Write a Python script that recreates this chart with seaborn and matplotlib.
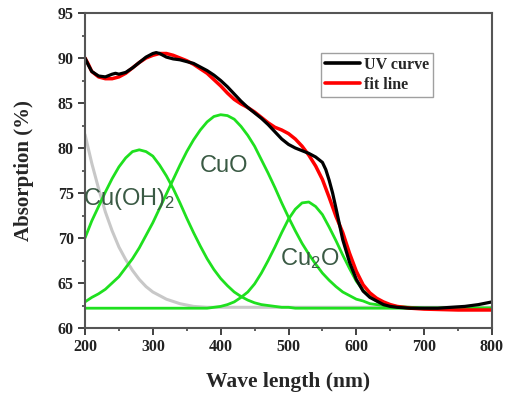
import matplotlib
matplotlib.use("Agg")
import matplotlib.pyplot as plt
import seaborn as sns
import pandas as pd
from matplotlib.lines import Line2D
from matplotlib.ticker import MultipleLocator

# ---------------- data ----------------
uv_x = [200, 205, 210, 220, 230, 240, 245, 250, 260, 270, 280, 290, 300, 305, 310, 320,
        330, 340, 350, 360, 370, 380, 390, 400, 410, 420, 430, 440, 450, 460, 470, 480,
        490, 500, 510, 520, 530, 540, 550, 555, 560, 565, 570, 580, 590, 600, 610, 620, 630, 640,
        650, 660, 680, 700, 720, 740, 760, 780, 800]
uv_y = [90.0, 89.2, 88.5, 88.0, 87.9, 88.2, 88.3, 88.2, 88.4, 88.9, 89.5, 90.1, 90.5, 90.6, 90.5, 90.1,
        89.9, 89.8, 89.6, 89.4, 89.0, 88.6, 88.1, 87.5, 86.8, 86.0, 85.2, 84.5, 83.9, 83.3, 82.6, 81.8,
        81.0, 80.4, 80.0, 79.7, 79.4, 79.0, 78.4, 77.6, 76.4, 75.0, 73.3, 69.8, 67.3, 65.4, 64.1, 63.4, 63.0, 62.6,
        62.4, 62.3, 62.2, 62.2, 62.2, 62.3, 62.4, 62.6, 62.9]

fit_x = [200, 205, 210, 220, 230, 240, 250, 260, 270, 280, 290, 300, 310, 320, 330, 340,
         350, 360, 370, 380, 390, 400, 410, 420, 430, 440, 450, 460, 470, 480, 490, 500,
         510, 520, 530, 540, 550, 560, 570, 580, 590, 600, 610, 620, 630, 640, 650, 660,
         680, 700, 750, 800]
fit_y = [90.0, 89.3, 88.5, 87.9, 87.7, 87.7, 87.9, 88.3, 88.9, 89.5, 90.0, 90.3, 90.5, 90.5, 90.3, 90.0,
         89.7, 89.3, 88.8, 88.3, 87.6, 86.9, 86.1, 85.4, 84.9, 84.5, 84.0, 83.4, 82.8, 82.3, 82.0, 81.6,
         81.0, 80.2, 79.2, 78.0, 76.5, 74.5, 72.4, 70.6, 68.3, 66.3, 64.8, 63.9, 63.3, 62.9, 62.6, 62.4,
         62.2, 62.1, 62.0, 62.0]

peak_x = [200, 210, 220, 230, 240, 250, 260, 270, 280, 290, 300, 310, 320, 330, 340, 350,
          360, 370, 380, 390, 400, 410, 420, 430, 440, 450, 460, 470, 480, 490, 500, 510,
          520, 530, 540, 550, 560, 570, 580, 590, 600, 610, 620, 630, 640, 650, 660, 680,
          700, 750, 800]

cuoh2_y = [70.0, 71.9, 73.5, 75.1, 76.6, 77.9, 78.9, 79.6, 79.8, 79.6, 79.1, 78.1, 76.9, 75.5, 73.9, 72.2,
           70.6, 69.1, 67.7, 66.5, 65.5, 64.7, 64.0, 63.5, 63.1, 62.8, 62.6, 62.5, 62.4, 62.3, 62.3, 62.2,
           62.2, 62.2, 62.2, 62.2, 62.2, 62.2, 62.2, 62.2, 62.2, 62.2, 62.2, 62.2, 62.2, 62.2, 62.2, 62.2,
           62.2, 62.2, 62.2]

cuo_y = [62.9, 63.4, 63.8, 64.3, 65.0, 65.7, 66.7, 67.7, 68.9, 70.3, 71.7, 73.3, 74.9, 76.5, 78.1, 79.6,
         80.9, 82.0, 82.9, 83.5, 83.7, 83.6, 83.2, 82.4, 81.4, 80.2, 78.7, 77.2, 75.6, 73.9, 72.3, 70.8,
         69.4, 68.2, 67.1, 66.1, 65.3, 64.6, 64.0, 63.6, 63.2, 63.0, 62.7, 62.6, 62.5, 62.4, 62.3, 62.2,
         62.2, 62.2, 62.2]

cu2o_y = [62.2, 62.2, 62.2, 62.2, 62.2, 62.2, 62.2, 62.2, 62.2, 62.2, 62.2, 62.2, 62.2, 62.2, 62.2, 62.2,
          62.2, 62.2, 62.2, 62.3, 62.4, 62.6, 62.9, 63.4, 64.0, 64.9, 66.1, 67.5, 69.0, 70.6, 72.1, 73.2,
          73.9, 74.0, 73.5, 72.6, 71.2, 69.7, 68.1, 66.6, 65.2, 64.2, 63.5, 63.0, 62.7, 62.5, 62.4, 62.3,
          62.2, 62.2, 62.2]

bg_x = [200, 210, 220, 230, 240, 250, 260, 270, 280, 290, 300, 320, 340, 360, 380, 400, 450, 500, 600, 700, 800]
bg_y = [81.5, 78.3, 75.5, 72.9, 70.8, 69.0, 67.6, 66.4, 65.4, 64.6, 64.0, 63.2, 62.7, 62.4, 62.3, 62.3,
        62.3, 62.3, 62.3, 62.3, 62.3]

x_ticks = [200, 300, 400, 500, 600, 700, 800]
y_ticks = [60, 65, 70, 75, 80, 85, 90, 95]

# ---------------- styling ----------------
sns.set_style("ticks")
plt.rcParams["font.family"] = ["Liberation Serif", "DejaVu Serif"]
plt.rcParams["mathtext.fontset"] = "custom"
plt.rcParams["mathtext.rm"] = "Liberation Sans"
plt.rcParams["mathtext.it"] = "Liberation Sans:italic"
plt.rcParams["mathtext.bf"] = "Liberation Sans:bold"

fig = plt.figure(figsize=(5.05, 3.98), dpi=100)
ax = fig.add_axes([85 / 505, 1 - 328 / 398, (492 - 85) / 505, (328 - 13) / 398])

GREEN = "#1fe01f"
df_bg = pd.DataFrame({"x": bg_x, "y": bg_y})
sns.lineplot(data=df_bg, x="x", y="y", ax=ax, color="#c8c8c8", lw=2.2)

df_peaks = pd.DataFrame({"x": peak_x, "cuoh2": cuoh2_y, "cuo": cuo_y, "cu2o": cu2o_y})
for col in ["cu2o", "cuoh2", "cuo"]:
    sns.lineplot(data=df_peaks, x="x", y=col, ax=ax, color=GREEN, lw=2.0)

df_fit = pd.DataFrame({"x": fit_x, "y": fit_y})
sns.lineplot(data=df_fit, x="x", y="y", ax=ax, color="#ff0000", lw=2.5)
df_uv = pd.DataFrame({"x": uv_x, "y": uv_y})
sns.lineplot(data=df_uv, x="x", y="y", ax=ax, color="#000000", lw=2.3)

ax.set_xlim(200, 800)
ax.set_ylim(60, 95)
ax.set_xticks(x_ticks)
ax.set_yticks(y_ticks)
ax.xaxis.set_minor_locator(MultipleLocator(50))
ax.yaxis.set_minor_locator(MultipleLocator(2.5))
ax.tick_params(axis="both", which="major", direction="out", length=5, width=1.3,
               color="#333333", pad=3, labelsize=11.5)
ax.tick_params(axis="both", which="minor", direction="out", length=2.5, width=1.1,
               color="#333333")
for lab in ax.get_xticklabels() + ax.get_yticklabels():
    lab.set_fontweight("bold")
    lab.set_color("#222222")

for side in ["left", "bottom", "top", "right"]:
    ax.spines[side].set_visible(True)
    ax.spines[side].set_color("#555555")
    ax.spines[side].set_linewidth(1.5)

ax.set_xlabel("Wave length (nm)", fontsize=15.5, fontweight="bold", labelpad=12)
ax.set_ylabel("Absorption (%)", fontsize=15, fontweight="bold", labelpad=17)

LABEL_C = "#3a5a44"
ax.text(369.5, 77.3, "CuO", fontsize=17, color=LABEL_C, family="Liberation Sans", va="baseline")
ax.text(197.5, 73.65, "Cu(OH)$_2$", fontsize=17, color=LABEL_C, family="Liberation Sans",
        va="baseline", clip_on=False)
ax.text(487.5, 67.0, "Cu$_2$O", fontsize=17, color=LABEL_C, family="Liberation Sans", va="baseline")

handles = [Line2D([], [], color="#000000", lw=2.6), Line2D([], [], color="#ff0000", lw=2.6)]
leg = ax.legend(handles, ["UV curve", "fit line"], loc="upper right",
                bbox_to_anchor=(0.855, 0.873), frameon=True, fancybox=False,
                prop={"family": "Liberation Serif", "weight": "bold", "size": 11.5},
                handlelength=2.2, handletextpad=0.25, labelspacing=0.25,
                borderpad=0.25, borderaxespad=0)
leg.get_frame().set_edgecolor("#888888")
leg.get_frame().set_linewidth(1.0)

fig.savefig("out.png", dpi=100)
